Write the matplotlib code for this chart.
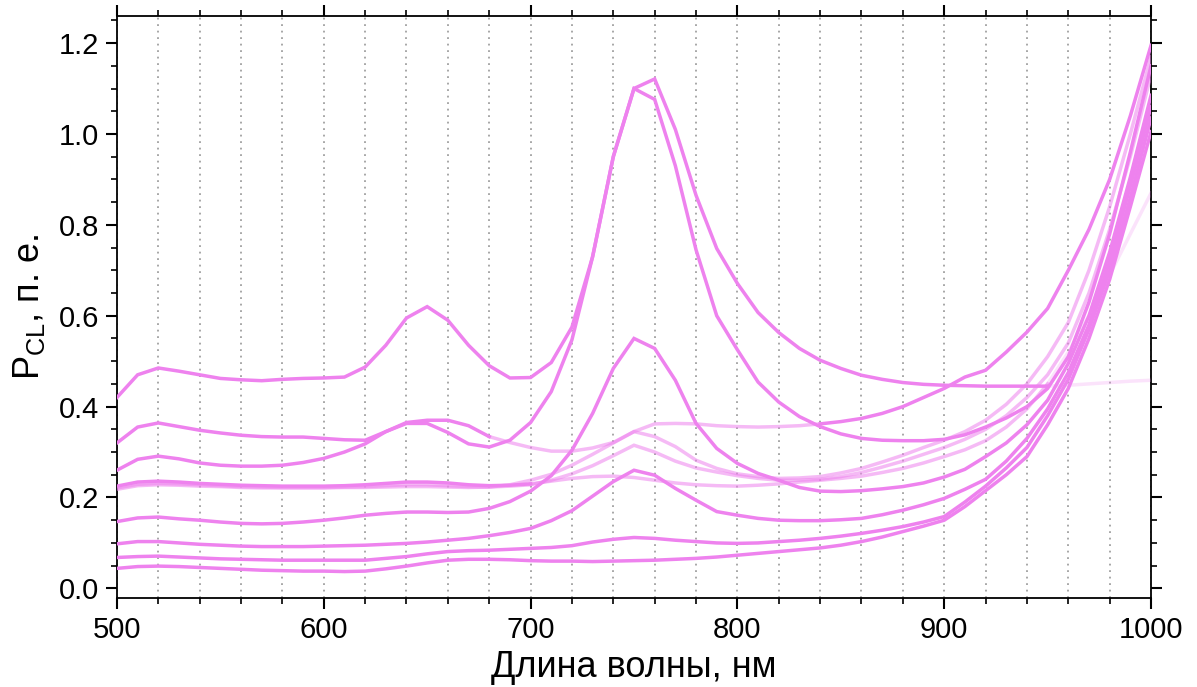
import numpy as np
import matplotlib
matplotlib.use("Agg")
import matplotlib.pyplot as plt
from matplotlib.ticker import MultipleLocator, FormatStrFormatter

plt.rcParams['font.family'] = ['Liberation Sans', 'DejaVu Sans']
plt.rcParams['mathtext.fontset'] = 'custom'
plt.rcParams['mathtext.rm'] = 'Liberation Sans'
plt.rcParams['mathtext.it'] = 'Liberation Sans'

wavelength = np.arange(500, 1001, 10)

# P_CL spectra, one value per 10 nm from 500 to 1000 nm
curve_a = [0.420, 0.470, 0.485, 0.478, 0.470, 0.462, 0.459, 0.457, 0.460, 0.462,
           0.463, 0.465, 0.487, 0.535, 0.595, 0.620, 0.590, 0.535, 0.490, 0.463,
           0.464, 0.497, 0.575, 0.730, 0.950, 1.100, 1.076, 0.930, 0.745, 0.600,
           0.525, 0.454, 0.410, 0.378, 0.356, 0.340, 0.330, 0.326, 0.325, 0.325,
           0.328, 0.338, 0.355, 0.375, 0.400, 0.440, 0.510, 0.630, 0.780, 0.960, 1.150]
curve_b = [0.320, 0.355, 0.364, 0.356, 0.348, 0.342, 0.337, 0.334, 0.333, 0.333,
           0.330, 0.327, 0.326, 0.345, 0.365, 0.370, 0.370, 0.358, 0.334, 0.321,
           0.310, 0.302, 0.302, 0.309, 0.321, 0.345, 0.362, 0.363, 0.362, 0.358,
           0.356, 0.355, 0.356, 0.358, 0.362, 0.367, 0.374, 0.385, 0.400, 0.420,
           0.440, 0.465, 0.480, 0.520, 0.564, 0.616, 0.700, 0.790, 0.900, 1.040, 1.195]
curve_c = [0.260, 0.284, 0.291, 0.285, 0.276, 0.271, 0.269, 0.269, 0.271, 0.277,
           0.286, 0.300, 0.318, 0.345, 0.363, 0.363, 0.343, 0.318, 0.311, 0.326,
           0.365, 0.433, 0.547, 0.730, 0.950, 1.100, 1.121, 1.010, 0.865, 0.748,
           0.671, 0.607, 0.563, 0.528, 0.502, 0.484, 0.469, 0.460, 0.453, 0.449,
           0.447, 0.446, 0.445, 0.445, 0.445, 0.445, 0.447, 0.450, 0.453, 0.456, 0.458]
curve_d = [0.225, 0.234, 0.236, 0.234, 0.231, 0.229, 0.227, 0.226, 0.225, 0.225,
           0.225, 0.226, 0.228, 0.231, 0.234, 0.234, 0.232, 0.228, 0.226, 0.227,
           0.230, 0.236, 0.242, 0.246, 0.247, 0.244, 0.238, 0.232, 0.228, 0.226,
           0.225, 0.227, 0.230, 0.234, 0.238, 0.242, 0.247, 0.255, 0.264, 0.276,
           0.290, 0.305, 0.325, 0.355, 0.395, 0.450, 0.520, 0.600, 0.690, 0.780, 0.870]
curve_l1 = [0.218, 0.226, 0.228, 0.227, 0.225, 0.224, 0.222, 0.221, 0.221, 0.221,
            0.221, 0.222, 0.222, 0.223, 0.224, 0.224, 0.223, 0.222, 0.223, 0.228,
            0.238, 0.251, 0.271, 0.295, 0.320, 0.345, 0.334, 0.312, 0.282, 0.264,
            0.252, 0.246, 0.242, 0.243, 0.246, 0.254, 0.264, 0.278, 0.293, 0.310,
            0.326, 0.345, 0.370, 0.405, 0.450, 0.510, 0.585, 0.700, 0.840, 1.000, 1.170]
curve_l2 = [0.221, 0.229, 0.231, 0.230, 0.228, 0.226, 0.224, 0.223, 0.222, 0.222,
            0.222, 0.223, 0.224, 0.226, 0.228, 0.228, 0.226, 0.224, 0.223, 0.225,
            0.228, 0.238, 0.252, 0.270, 0.292, 0.315, 0.300, 0.280, 0.265, 0.256,
            0.248, 0.242, 0.238, 0.238, 0.240, 0.246, 0.255, 0.267, 0.280, 0.295,
            0.310, 0.328, 0.350, 0.380, 0.420, 0.470, 0.540, 0.650, 0.790, 0.950, 1.130]
curve_e = [0.147, 0.155, 0.157, 0.153, 0.150, 0.146, 0.143, 0.142, 0.143, 0.146,
           0.150, 0.155, 0.161, 0.165, 0.168, 0.168, 0.167, 0.168, 0.176, 0.191,
           0.214, 0.248, 0.304, 0.385, 0.484, 0.550, 0.528, 0.458, 0.363, 0.308,
           0.275, 0.253, 0.238, 0.222, 0.214, 0.213, 0.215, 0.219, 0.224, 0.232,
           0.245, 0.262, 0.290, 0.320, 0.360, 0.414, 0.495, 0.600, 0.740, 0.905, 1.085]
curve_f = [0.098, 0.103, 0.103, 0.100, 0.097, 0.095, 0.093, 0.092, 0.092, 0.092,
           0.093, 0.094, 0.095, 0.097, 0.099, 0.102, 0.106, 0.110, 0.116, 0.123,
           0.132, 0.149, 0.171, 0.203, 0.235, 0.260, 0.249, 0.220, 0.194, 0.169,
           0.161, 0.154, 0.150, 0.149, 0.149, 0.151, 0.154, 0.162, 0.172, 0.184,
           0.198, 0.218, 0.240, 0.280, 0.330, 0.395, 0.475, 0.580, 0.720, 0.885, 1.060]
curve_g = [0.068, 0.070, 0.071, 0.069, 0.067, 0.065, 0.064, 0.063, 0.062, 0.062,
           0.062, 0.062, 0.062, 0.066, 0.070, 0.076, 0.081, 0.083, 0.084, 0.086,
           0.088, 0.090, 0.094, 0.102, 0.108, 0.112, 0.110, 0.106, 0.103, 0.100,
           0.099, 0.100, 0.103, 0.106, 0.110, 0.115, 0.121, 0.128, 0.136, 0.146,
           0.158, 0.190, 0.225, 0.265, 0.310, 0.380, 0.460, 0.570, 0.700, 0.860, 1.035]
curve_h = [0.044, 0.048, 0.049, 0.048, 0.046, 0.044, 0.042, 0.040, 0.039, 0.038,
           0.038, 0.037, 0.038, 0.043, 0.049, 0.056, 0.062, 0.064, 0.064, 0.063,
           0.061, 0.060, 0.060, 0.059, 0.060, 0.061, 0.062, 0.064, 0.066, 0.069,
           0.073, 0.077, 0.081, 0.085, 0.089, 0.095, 0.103, 0.113, 0.125, 0.137,
           0.150, 0.180, 0.215, 0.250, 0.290, 0.360, 0.440, 0.550, 0.680, 0.840, 1.005]

# opacity along each curve: (from nm, to nm, alpha)
SOLID, LIGHT, FAINT = 1.0, 0.55, 0.22
styles = [
    (curve_l1, [(500, 1000, LIGHT)]),
    (curve_l2, [(500, 1000, LIGHT)]),
    (curve_d, [(500, 700, SOLID), (700, 950, LIGHT), (950, 1000, FAINT)]),
    (curve_b, [(500, 680, SOLID), (680, 840, LIGHT), (840, 1000, SOLID)]),
    (curve_c, [(500, 950, SOLID), (950, 1000, FAINT)]),
    (curve_a, [(500, 1000, SOLID)]),
    (curve_e, [(500, 1000, SOLID)]),
    (curve_f, [(500, 1000, SOLID)]),
    (curve_g, [(500, 1000, SOLID)]),
    (curve_h, [(500, 1000, SOLID)]),
]

fig = plt.figure(figsize=(11.97, 6.87), dpi=100)
ax = fig.add_axes([0.0977, 0.129, 0.8639, 0.848])

for values, spans in styles:
    values = np.asarray(values)
    for lo, hi, alpha in spans:
        m = (wavelength >= lo) & (wavelength <= hi)
        ax.plot(wavelength[m], values[m], color='violet', alpha=alpha,
                lw=2.5, solid_joinstyle='miter', zorder=3)

ax.set_xlim(500, 1000)
ax.set_ylim(-0.022, 1.26)
ax.xaxis.set_major_locator(MultipleLocator(100))
ax.xaxis.set_minor_locator(MultipleLocator(20))
ax.yaxis.set_major_locator(MultipleLocator(0.2))
ax.yaxis.set_minor_locator(MultipleLocator(0.05))
ax.yaxis.set_major_formatter(FormatStrFormatter('%.1f'))

# dotted guides at every x tick
ax.grid(True, axis='x', which='both', color='#a0a0a0', lw=1.3,
        dashes=(1.0, 2.6))
ax.set_axisbelow(True)

ax.tick_params(which='both', direction='out', top=True, right=True,
               labelsize=21, width=1.2, pad=5)
ax.tick_params(which='major', length=8, width=1.5)
ax.tick_params(which='minor', length=4.5)
for s in ax.spines.values():
    s.set_linewidth(1.3)

ax.set_xlabel('Длина волны, нм', fontsize=26, labelpad=4)
ax.set_ylabel(r'P$_{\mathrm{CL}}$, п. е.', fontsize=26, labelpad=8)

fig.savefig('out.png', dpi=100)
